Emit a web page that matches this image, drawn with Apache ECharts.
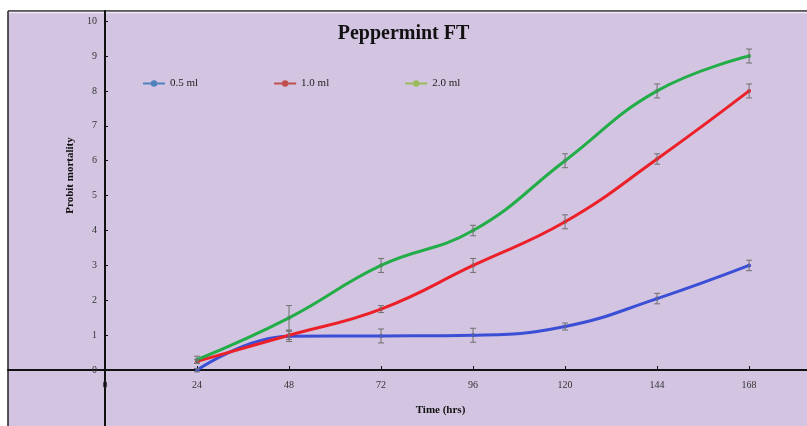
<!DOCTYPE html>
<html><head><meta charset="utf-8">
<script src="https://cdn.jsdelivr.net/npm/echarts@6/dist/echarts.min.js"></script>
<style>html,body{margin:0;padding:0;background:#fff}#c{width:807px;height:426px}</style>
</head><body><div id="c"></div>
<script>
const hours = [24, 48, 72, 96, 120, 144, 168];
const xTicks = [0, 24, 48, 72, 96, 120, 144, 168];
const yTicks = [0, 1, 2, 3, 4, 5, 6, 7, 8, 9, 10];
const seriesNames = ['0.5 ml', '1.0 ml', '2.0 ml'];
const v05 = [0.0, 0.97, 0.98, 1.0, 1.25, 2.05, 3.0];
const v10 = [0.25, 1.0, 1.75, 3.0, 4.25, 6.05, 8.0];
const v20 = [0.3, 1.5, 3.0, 4.0, 6.0, 8.0, 9.0];
const e05 = [0.05, 0.15, 0.2, 0.2, 0.1, 0.15, 0.15];
const e10 = [0.05, 0.12, 0.1, 0.2, 0.2, 0.15, 0.2];
const e20 = [0.1, 0.35, 0.2, 0.15, 0.2, 0.2, 0.2];

const lineColors = ['#3b4fd6', '#ec2028', '#22ad48'];
const legendColors = ['#4f81bd', '#c0504d', '#9bbb59'];
const vals = [v05, v10, v20];
const errs = [e05, e10, e20];
const font = 'Liberation Serif';

const chart = echarts.init(document.getElementById('c'));
const series = [];
vals.forEach((v, i) => {
  series.push({
    name: seriesNames[i], type: 'line', smooth: 0.45,
    data: hours.map((h, k) => [h, v[k]]),
    symbol: 'circle', symbolSize: 4,
    lineStyle: {width: 3, color: lineColors[i]},
    itemStyle: {color: lineColors[i]}, z: 3
  });
});
const errData = [];
vals.forEach((v, i) => hours.forEach((h, k) => errData.push([h, v[k] - errs[i][k], v[k] + errs[i][k]])));
series.push({
  type: 'custom', z: 4, silent: true,
  data: errData,
  renderItem: function (params, api) {
    const x = api.value(0);
    const lo = api.coord([x, api.value(1)]);
    const hi = api.coord([x, api.value(2)]);
    const w = 3;
    const st = {stroke: '#707070', lineWidth: 1};
    return {type: 'group', children: [
      {type: 'line', shape: {x1: lo[0], y1: lo[1], x2: hi[0], y2: hi[1]}, style: st},
      {type: 'line', shape: {x1: lo[0] - w, y1: lo[1], x2: lo[0] + w, y2: lo[1]}, style: st},
      {type: 'line', shape: {x1: hi[0] - w, y1: hi[1], x2: hi[0] + w, y2: hi[1]}, style: st}
    ]};
  }
});

chart.setOption({
  animation: false,
  backgroundColor: '#fff',
  graphic: [
    {type: 'rect', shape: {x: 8, y: 11, width: 800, height: 416}, style: {fill: '#d3c5e1'}, z: -10},
    {type: 'line', shape: {x1: 8, y1: 11, x2: 807, y2: 11}, style: {stroke: '#222', lineWidth: 1.5}, z: -5},
    {type: 'line', shape: {x1: 8, y1: 12.5, x2: 807, y2: 12.5}, style: {stroke: '#eee6f4', lineWidth: 1.5}, z: -5},
    {type: 'line', shape: {x1: 8, y1: 11, x2: 8, y2: 426}, style: {stroke: '#222', lineWidth: 1.5}, z: -5}
  ],
  title: {text: 'Peppermint FT', left: 'center', top: 19,
    textStyle: {fontFamily: font, fontWeight: 'bold', fontSize: 20, color: '#111'}},
  legend: {
    top: 73, left: 137, itemWidth: 22, itemHeight: 8, itemGap: 75,
    textStyle: {fontFamily: font, fontSize: 11, color: '#222', width: 30},
    data: seriesNames.map((n, i) => ({name: n, itemStyle: {color: legendColors[i]}, lineStyle: {color: legendColors[i], width: 2}}))
  },
  grid: {left: 8, right: 0, top: 11, bottom: 0, containLabel: false, outerBoundsMode: 'none'},
  xAxis: {
    type: 'value', min: -25.3, max: 183.1, position: 'bottom', offset: -56,
    name: 'Time (hrs)', nameLocation: 'middle', nameGap: 35,
    nameTextStyle: {fontFamily: font, fontWeight: 'bold', fontSize: 11, color: '#111', padding: [0, 0, 0, 66]},
    axisLine: {onZero: false, lineStyle: {color: '#111', width: 2}},
    axisTick: {inside: true, length: 4, customValues: xTicks, lineStyle: {color: '#111'}},
    axisLabel: {customValues: xTicks, fontFamily: font, fontSize: 10, color: '#333', margin: 10},
    splitLine: {show: false}
  },
  yAxis: {
    type: 'value', min: -1.6, max: 10.29, position: 'left', offset: -97,
    name: 'Probit mortality', nameLocation: 'middle', nameRotate: 90, nameGap: 26,
    nameTextStyle: {fontFamily: font, fontWeight: 'bold', fontSize: 11, color: '#111', padding: [0, 0, 0, 86]},
    axisLine: {onZero: false, lineStyle: {color: '#111', width: 2}},
    axisTick: {inside: true, length: 3, customValues: yTicks, lineStyle: {color: '#111'}},
    axisLabel: {customValues: yTicks, fontFamily: font, fontSize: 10, color: '#333', margin: 8},
    splitLine: {show: false}
  },
  series: series
});
</script></body></html>
